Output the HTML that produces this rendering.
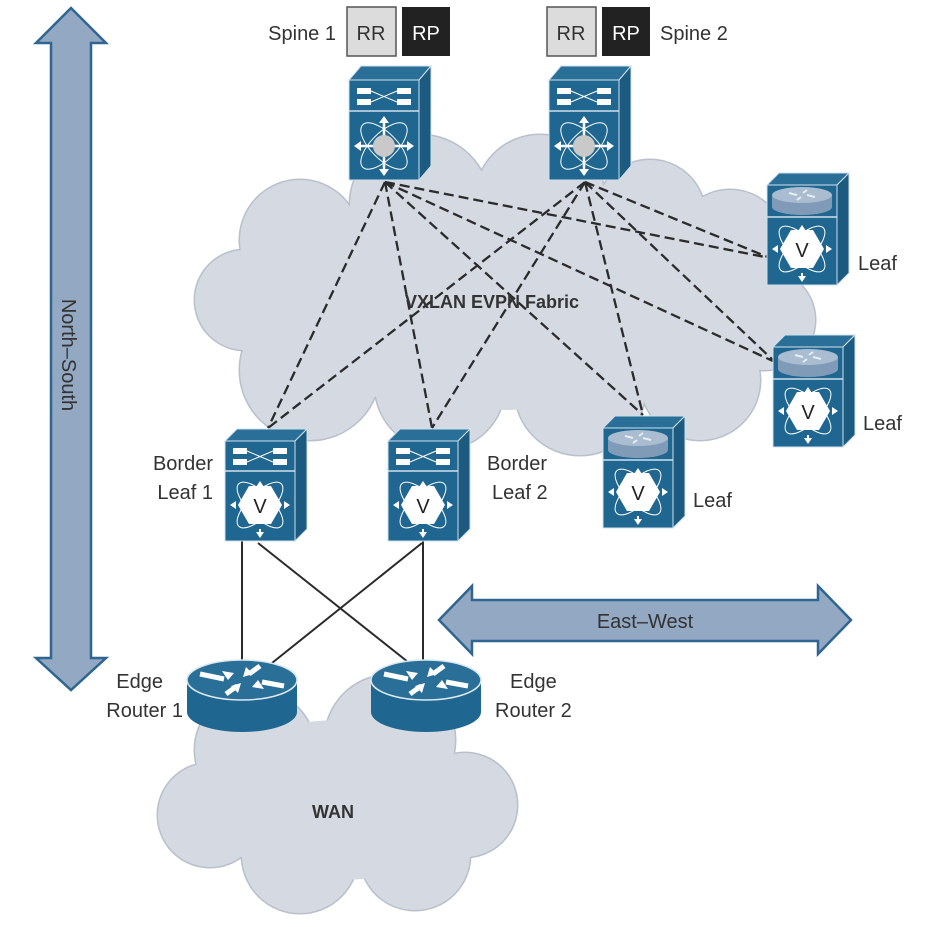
<!DOCTYPE html>
<html><head><meta charset="utf-8"><style>
html,body{margin:0;padding:0;background:#fff}
svg{display:block}
text{font-family:"Liberation Sans",sans-serif;fill:#333}
</style></head><body>
<svg width="934" height="927" viewBox="0 0 934 927" xmlns="http://www.w3.org/2000/svg">
<defs>
<symbol id="spine" overflow="visible">
  <polygon points="0,0 12,-14 82,-14 70,0" fill="#2a6f97" stroke="#cfe0ec" stroke-width="1"/>
  <polygon points="70,0 82,-14 82,86 70,100" fill="#1d5a80" stroke="#cfe0ec" stroke-width="1"/>
  <rect x="0" y="0" width="70" height="100" fill="#1f6690" stroke="#cfe0ec" stroke-width="1"/>
  <line x1="0" y1="31" x2="70" y2="31" stroke="#cfe0ec" stroke-width="1.5"/>
  <rect x="8" y="8" width="14" height="6" fill="#fff"/><rect x="48" y="8" width="14" height="6" fill="#fff"/>
  <rect x="8" y="19" width="14" height="6" fill="#fff"/><rect x="48" y="19" width="14" height="6" fill="#fff"/>
  <path d="M22,11 L48,22 M22,22 L48,11" stroke="#fff" stroke-width="1"/>
  <ellipse cx="35" cy="66" rx="30" ry="13" transform="rotate(45 35 66)" fill="none" stroke="#fff" stroke-width="1"/>
  <ellipse cx="35" cy="66" rx="30" ry="13" transform="rotate(-45 35 66)" fill="none" stroke="#fff" stroke-width="1"/>
  <path d="M35,38 V94 M7,66 H63" stroke="#fff" stroke-width="2.5"/>
  <path d="M35,36 l-5,7 h10z M35,96 l-5,-7 h10z M5,66 l7,-5 v10z M65,66 l-7,-5 v10z" fill="#fff"/>
  <circle cx="35" cy="66" r="11" fill="#c9c9c9"/>
</symbol>
<symbol id="vbottom" overflow="visible">
  <ellipse cx="35" cy="64" rx="30" ry="12" transform="rotate(45 35 64)" fill="none" stroke="#fff" stroke-width="1"/>
  <ellipse cx="35" cy="64" rx="30" ry="12" transform="rotate(-45 35 64)" fill="none" stroke="#fff" stroke-width="1"/>
  <path d="M35,88 v6 M10,64 h-2 M60,64 h2" stroke="#fff" stroke-width="2"/>
  <path d="M35,97 l-4,-6 h8z M5,64 l6,-4 v8z M65,64 l-6,-4 v8z M35,40 l-4,6 h8z" fill="#fff"/>
  <polygon points="24,45 46,45 57,64 46,83 24,83 13,64" fill="#fff"/>
  <text x="35" y="72" text-anchor="middle" font-size="20" style="fill:#222">V</text>
</symbol>
<symbol id="bleaf" overflow="visible">
  <polygon points="0,0 12,-12 82,-12 70,0" fill="#2a6f97" stroke="#cfe0ec" stroke-width="1"/>
  <polygon points="70,0 82,-12 82,88 70,100" fill="#1d5a80" stroke="#cfe0ec" stroke-width="1"/>
  <rect x="0" y="0" width="70" height="100" fill="#1f6690" stroke="#cfe0ec" stroke-width="1"/>
  <line x1="0" y1="30" x2="70" y2="30" stroke="#cfe0ec" stroke-width="1.5"/>
  <rect x="8" y="7" width="14" height="6" fill="#fff"/><rect x="48" y="7" width="14" height="6" fill="#fff"/>
  <rect x="8" y="18" width="14" height="6" fill="#fff"/><rect x="48" y="18" width="14" height="6" fill="#fff"/>
  <path d="M22,10 L48,21 M22,21 L48,10" stroke="#fff" stroke-width="1"/>
  <use href="#vbottom"/>
</symbol>
<symbol id="rleaf" overflow="visible">
  <polygon points="0,0 12,-12 82,-12 70,0" fill="#2a6f97" stroke="#cfe0ec" stroke-width="1"/>
  <polygon points="70,0 82,-12 82,88 70,100" fill="#1d5a80" stroke="#cfe0ec" stroke-width="1"/>
  <rect x="0" y="0" width="70" height="100" fill="#1f6690" stroke="#cfe0ec" stroke-width="1"/>
  <line x1="0" y1="32" x2="70" y2="32" stroke="#cfe0ec" stroke-width="1.5"/>
  <path d="M5,10 v12 a30,8 0 0 0 60,0 v-12z" fill="#7f9bb8"/>
  <ellipse cx="35" cy="10" rx="30" ry="8" fill="#a9bcd0"/>
  <path d="M22,8 l8,2 M48,12 l-8,-2 M40,5 l-4,3 M30,15 l4,-3" stroke="#e6edf4" stroke-width="2"/>
  <use href="#vbottom"/>
</symbol>
<symbol id="router" overflow="visible">
  <path d="M-55,0 v32 a55,20 0 0 0 110,0 v-32z" fill="#1f6690"/>
  <ellipse cx="0" cy="0" rx="55" ry="20" fill="#2a6f97" stroke="#dce8f0" stroke-width="1.5"/>
  <path d="M-42,-6 l24,5 M42,6 l-22,-4 M18,-14 l-11,8 M-16,14 l11,-8" stroke="#fff" stroke-width="5"/>
  <path d="M-14,0 l-6,-9 l12,2z M16,0 l6,9 l-12,-2z M1,-3 l3,-10 l7,7z M-1,3 l-3,10 l-7,-7z" fill="#fff"/>
</symbol>
</defs>

<!-- clouds -->
<g fill="#d4d9e2" stroke="#b9c0cb" stroke-width="3">
  <circle cx="300" cy="240" r="60"/><circle cx="420" cy="205" r="70"/><circle cx="540" cy="200" r="65"/>
  <circle cx="650" cy="215" r="55"/><circle cx="730" cy="245" r="55"/><circle cx="765" cy="320" r="50"/>
  <circle cx="700" cy="380" r="60"/><circle cx="580" cy="390" r="65"/><circle cx="440" cy="385" r="65"/>
  <circle cx="310" cy="370" r="70"/><circle cx="245" cy="300" r="50"/>
</g>
<g fill="#d4d9e2">
  <circle cx="300" cy="240" r="60"/><circle cx="420" cy="205" r="70"/><circle cx="540" cy="200" r="65"/>
  <circle cx="650" cy="215" r="55"/><circle cx="730" cy="245" r="55"/><circle cx="765" cy="320" r="50"/>
  <circle cx="700" cy="380" r="60"/><circle cx="580" cy="390" r="65"/><circle cx="440" cy="385" r="65"/>
  <circle cx="310" cy="370" r="70"/><circle cx="245" cy="300" r="50"/>
  <ellipse cx="500" cy="300" rx="260" ry="110"/>
</g>
<g fill="#d4d9e2" stroke="#b9c0cb" stroke-width="3">
  <circle cx="255" cy="750" r="60"/><circle cx="390" cy="740" r="65"/><circle cx="465" cy="805" r="52"/>
  <circle cx="415" cy="855" r="55"/><circle cx="300" cy="855" r="58"/><circle cx="210" cy="815" r="52"/>
</g>
<g fill="#d4d9e2">
  <circle cx="255" cy="750" r="60"/><circle cx="390" cy="740" r="65"/><circle cx="465" cy="805" r="52"/>
  <circle cx="415" cy="855" r="55"/><circle cx="300" cy="855" r="58"/><circle cx="210" cy="815" r="52"/>
  <ellipse cx="340" cy="800" rx="140" ry="80"/>
</g>

<!-- dashed links -->
<g stroke="#2b2b2b" stroke-width="2.3" stroke-dasharray="10,5" fill="none">
  <path d="M385,182 L268,428 M385,182 L432,428 M385,182 L643,415 M385,182 L770,258 M385,182 L775,362"/>
  <path d="M585,182 L268,428 M585,182 L432,428 M585,182 L643,415 M585,182 L770,258 M585,182 L775,362"/>
</g>
<!-- solid links -->
<g stroke="#2b2b2b" stroke-width="2">
  <path d="M242,540 V662 M258,543 L408,662 M423,540 V662 M422,543 L272,663"/>
</g>

<!-- arrows -->
<polygon points="71,8 106,43 91,43 91,658 106,658 71,690 36,658 51,658 51,43 36,43" fill="#93a8c2" stroke="#2f6691" stroke-width="2.5"/>
<polygon points="439,620 472,586 472,600 818,600 818,586 851,620 818,654 818,641 472,641 472,654" fill="#93a8c2" stroke="#2f6691" stroke-width="2.5"/>

<!-- devices -->
<use href="#spine" x="349" y="80"/>
<use href="#spine" x="549" y="80"/>
<use href="#bleaf" x="225" y="441"/>
<use href="#bleaf" x="388" y="441"/>
<use href="#rleaf" x="603" y="428"/>
<use href="#rleaf" x="767" y="185"/>
<use href="#rleaf" x="773" y="347"/>
<use href="#router" x="242" y="680"/>
<use href="#router" x="426" y="680"/>

<!-- RR/RP -->
<rect x="347" y="7" width="49" height="49" fill="#dcdcdc" stroke="#555" stroke-width="1.5"/>
<rect x="402" y="7" width="48" height="49" fill="#222"/>
<rect x="547" y="7" width="49" height="49" fill="#dcdcdc" stroke="#555" stroke-width="1.5"/>
<rect x="602" y="7" width="48" height="49" fill="#222"/>
<g font-size="20">
<text x="371" y="40" text-anchor="middle" style="fill:#333">RR</text>
<text x="426" y="40" text-anchor="middle" style="fill:#fff">RP</text>
<text x="571" y="40" text-anchor="middle" style="fill:#333">RR</text>
<text x="626" y="40" text-anchor="middle" style="fill:#fff">RP</text>
<text x="336" y="40" text-anchor="end">Spine 1</text>
<text x="660" y="40">Spine 2</text>
<text x="858" y="270">Leaf</text>
<text x="863" y="430">Leaf</text>
<text x="693" y="507">Leaf</text>
<text x="213" y="470" text-anchor="end">Border</text>
<text x="213" y="499" text-anchor="end">Leaf 1</text>
<text x="487" y="470">Border</text>
<text x="492" y="499">Leaf 2</text>
<text x="163" y="688" text-anchor="end">Edge</text>
<text x="183" y="717" text-anchor="end">Router 1</text>
<text x="510" y="688">Edge</text>
<text x="495" y="717">Router 2</text>
<text x="645" y="628" text-anchor="middle">East–West</text>
<text transform="translate(62,355) rotate(90)" text-anchor="middle">North–South</text>
</g>
<text x="492" y="308" text-anchor="middle" font-size="18" font-weight="bold">VXLAN EVPN Fabric</text>
<text x="333" y="818" text-anchor="middle" font-size="18" font-weight="bold">WAN</text>
</svg>
</body></html>
